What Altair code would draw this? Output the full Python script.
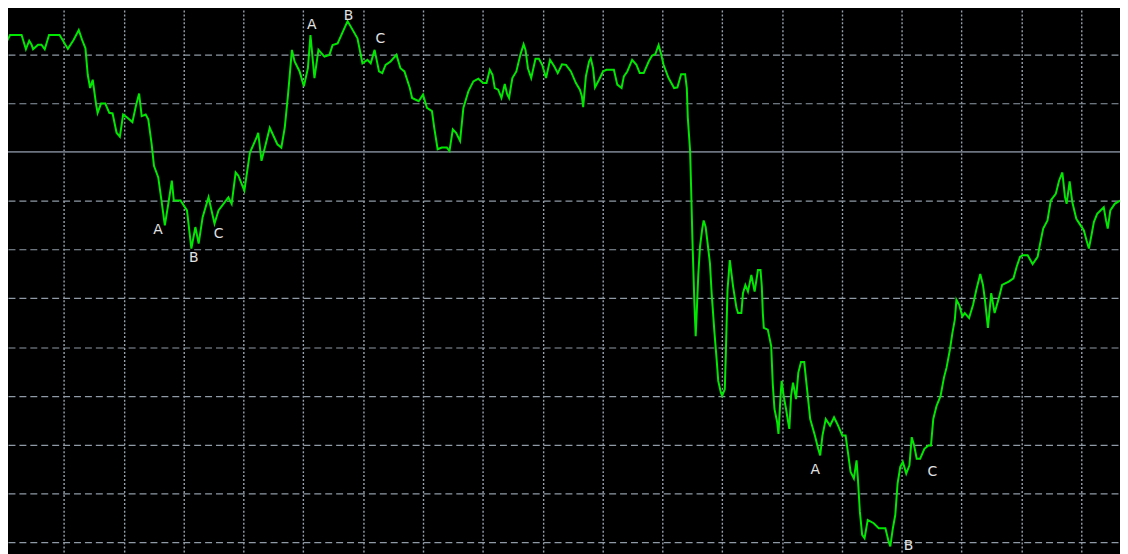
import altair as alt
import pandas as pd

# Time axis in minutes (vertical grid every 60 min), price axis (grid every 50 points)
minutes = [
    1.0, 6.0, 17.6, 21.9, 25.2, 27.6, 29.1, 34.1, 37.5, 40.8, 45.1, 55.7, 64.0, 69.7, 74.9, 78.3,
    81.6, 83.9, 86.3, 88.9, 92.3, 93.8, 97.2, 101.5, 105.5, 108.8, 112.8, 116.1, 119.4, 123.7,
    128.7, 132.1, 135.4, 138.0, 142.0, 144.6, 148.0, 150.3, 154.6, 158.5, 161.2, 165.2, 168.2,
    170.2, 176.9, 183.4, 187.8, 191.8, 195.1, 199.1, 205.0, 211.0, 215.0, 224.9, 228.2, 232.2,
    234.9, 240.9, 246.5, 253.1, 254.8, 258.1, 261.5, 266.4, 274.0, 278.0, 281.4, 284.7, 288.6,
    291.3, 296.3, 300.6, 304.6, 307.2, 311.2, 315.2, 321.2, 326.2, 329.4, 334.4, 344.4, 354.3,
    359.3, 364.3, 367.6, 371.5, 375.9, 379.2, 382.5, 387.5, 393.4, 397.4, 401.4, 406.8, 409.1,
    415.7, 420.0, 424.0, 429.0, 431.3, 434.7, 438.9, 443.9, 446.6, 449.9, 453.2, 457.2, 460.5,
    465.5, 470.5, 475.5, 480.4, 483.7, 487.0, 489.7, 492.0, 495.4, 498.7, 502.0, 504.3, 506.3,
    509.6, 513.6, 517.6, 520.9, 522.8, 525.2, 528.5, 532.8, 536.2, 539.5, 543.4, 547.4, 551.7,
    555.1, 559.4, 563.4, 568.3, 573.3, 577.3, 579.3, 580.6, 583.3, 586.5, 588.2, 590.5, 592.5,
    596.5, 600.5, 603.9, 611.4, 614.8, 619.1, 621.4, 624.8, 629.7, 634.0, 637.3, 641.3, 646.3,
    649.7, 652.9, 656.2, 658.9, 661.2, 666.2, 671.8, 675.1, 678.8, 682.8, 684.5, 685.5, 687.8,
    688.8, 690.1, 692.1, 693.4, 694.7, 696.0, 697.7, 700.0, 701.4, 703.4, 705.4, 707.7, 709.4,
    712.0, 714.4, 716.0, 718.6, 719.9, 722.6, 723.6, 725.3, 727.6, 730.9, 734.3, 735.9, 739.2,
    740.8, 743.2, 745.8, 749.2, 752.5, 755.8, 758.4, 759.7, 760.7, 761.7, 765.7, 769.1, 770.7,
    772.4, 775.1, 776.4, 778.4, 779.6, 781.6, 784.0, 785.6, 787.3, 789.0, 791.0, 794.0, 796.3,
    799.0, 802.2, 804.9, 808.2, 812.9, 816.2, 818.2, 820.5, 823.8, 828.1, 832.1, 835.4, 840.4,
    843.7, 846.0, 848.7, 852.0, 854.7, 856.0, 858.0, 860.3, 862.7, 865.9, 871.9, 876.9, 883.6,
    886.8, 888.5, 891.1, 893.5, 895.8, 898.5, 901.1, 904.5, 907.7, 910.0, 912.4, 915.0, 918.4,
    922.7, 926.7, 929.3, 931.6, 934.9, 938.9, 942.3, 944.9, 948.3, 950.8, 953.2, 954.8, 957.5,
    960.8, 963.2, 967.5, 971.5, 974.7, 978.7, 981.4, 983.4, 986.4, 989.7, 993.1, 997.3, 1000.6,
    1007.3, 1012.0, 1015.2, 1018.5, 1021.2, 1026.2, 1031.2, 1036.2, 1038.4, 1041.8, 1046.1,
    1049.4, 1054.4, 1057.7, 1061.0, 1063.7, 1065.3, 1068.3, 1071.0, 1075.0, 1079.3, 1082.6,
    1085.2, 1087.6, 1090.2, 1092.6, 1095.9, 1102.5, 1104.8, 1106.5, 1109.1, 1113.5, 1118.8,
]
price = [
    1609.5, 1619.7, 1619.7, 1605.1, 1613.9, 1609.8, 1605.1, 1609.8, 1609.8, 1605.1, 1619.7,
    1619.7, 1605.5, 1614.6, 1624.8, 1614.6, 1606.1, 1579.0, 1565.4, 1573.9, 1548.5, 1540.0,
    1549.5, 1549.5, 1540.0, 1539.4, 1519.6, 1515.6, 1538.3, 1534.9, 1530.5, 1546.8, 1559.7,
    1536.6, 1538.3, 1533.3, 1507.8, 1485.8, 1473.9, 1445.1, 1424.7, 1450.2, 1470.5, 1450.2,
    1450.2, 1440.0, 1401.0, 1423.0, 1406.1, 1433.2, 1453.5, 1426.5, 1440.0, 1453.5, 1446.8,
    1478.9, 1475.6, 1460.3, 1499.3, 1514.5, 1519.6, 1490.8, 1504.4, 1524.7, 1507.8, 1504.4,
    1524.7, 1558.7, 1604.5, 1592.6, 1582.4, 1567.1, 1585.7, 1619.7, 1575.6, 1604.5, 1597.6,
    1599.4, 1609.5, 1611.2, 1634.0, 1616.3, 1590.8, 1594.3, 1590.8, 1604.5, 1582.4, 1580.7,
    1589.2, 1592.6, 1599.4, 1585.7, 1582.4, 1565.4, 1555.2, 1551.9, 1558.7, 1545.1, 1541.7,
    1524.7, 1502.7, 1504.4, 1504.4, 1501.0, 1523.1, 1519.6, 1511.2, 1545.1, 1562.0, 1572.2,
    1575.0, 1570.5, 1570.5, 1584.1, 1579.0, 1565.4, 1563.8, 1555.2, 1569.5, 1559.3, 1555.2,
    1575.6, 1582.4, 1599.4, 1610.2, 1604.5, 1585.7, 1575.6, 1595.3, 1595.3, 1589.2, 1575.6,
    1594.3, 1587.5, 1580.7, 1589.8, 1589.2, 1582.4, 1570.5, 1563.8, 1557.0, 1545.8, 1577.3,
    1592.6, 1595.9, 1585.7, 1566.1, 1573.9, 1582.4, 1584.1, 1584.1, 1568.9, 1565.4, 1577.3,
    1582.4, 1594.3, 1589.2, 1580.7, 1580.7, 1592.6, 1598.7, 1600.0, 1609.5, 1599.4, 1589.2,
    1575.6, 1565.4, 1566.1, 1579.6, 1579.6, 1565.4, 1534.9, 1501.0, 1463.7, 1411.2, 1345.1,
    1311.1, 1341.6, 1373.9, 1402.7, 1421.4, 1429.8, 1423.0, 1406.1, 1385.8, 1355.3, 1317.9,
    1287.4, 1265.4, 1253.6, 1250.1, 1256.9, 1292.5, 1358.6, 1389.1, 1362.0, 1340.0, 1334.9,
    1334.9, 1355.3, 1363.7, 1356.9, 1373.9, 1356.9, 1379.0, 1379.0, 1362.0, 1334.9, 1319.7,
    1317.9, 1301.0, 1262.0, 1236.6, 1223.0, 1211.1, 1248.5, 1265.4, 1250.1, 1236.6, 1226.4,
    1216.2, 1250.1, 1263.7, 1246.7, 1273.9, 1284.7, 1284.7, 1258.6, 1226.4, 1209.4, 1195.9,
    1189.1, 1209.4, 1226.4, 1219.6, 1228.1, 1221.3, 1209.4, 1209.4, 1192.5, 1172.2, 1165.4,
    1184.0, 1165.4, 1131.5, 1107.7, 1104.3, 1123.0, 1119.6, 1114.5, 1114.5, 1101.0, 1095.9,
    1114.5, 1128.0, 1160.3, 1177.3, 1182.4, 1170.5, 1178.9, 1207.8, 1199.2, 1185.7, 1185.7,
    1195.9, 1199.2, 1199.2, 1226.4, 1239.9, 1250.1, 1268.8, 1279.0, 1297.6, 1314.6, 1328.1,
    1348.5, 1343.4, 1331.5, 1334.9, 1329.8, 1343.4, 1358.6, 1374.9, 1363.7, 1348.5, 1319.7,
    1355.3, 1334.9, 1350.2, 1363.7, 1367.1, 1370.5, 1382.3, 1392.5, 1394.2, 1394.2, 1385.1,
    1392.5, 1404.4, 1421.4, 1429.8, 1450.2, 1457.0, 1470.5, 1478.9, 1453.5, 1446.8, 1469.8,
    1448.4, 1431.5, 1424.7, 1419.6, 1409.5, 1401.0, 1414.6, 1428.1, 1436.6, 1443.3, 1429.8,
    1421.4, 1440.0, 1446.8, 1450.2,
]

label_text = ["A", "B", "C", "A", "B", "C", "A", "B", "C"]
label_minute = [154.3, 190.1, 215.0, 308.5, 345.4, 377.2, 813.2, 906.8, 930.7]
label_price = [1419.6, 1391.2, 1415.6, 1630.2, 1638.8, 1616.0, 1174.5, 1096.2, 1172.5]

x_grid = [60 * k for k in range(1, 19)]
y_grid = [1100, 1150, 1200, 1250, 1300, 1350, 1400, 1450, 1550, 1600]
ref_price = [1500]

X_DOMAIN = [3.96, 1118.8]
Y_DOMAIN = [1090.1, 1645.4]

series = pd.DataFrame({"minute": minutes, "price": price})
labels = pd.DataFrame({"t": label_text, "minute": label_minute, "price": label_price})
ref = pd.DataFrame({"price": ref_price})

xs = alt.Scale(domain=X_DOMAIN, nice=False, zero=False)
ys = alt.Scale(domain=Y_DOMAIN, nice=False, zero=False)

grid_src = pd.DataFrame({"minute": [X_DOMAIN[0]], "price": [Y_DOMAIN[0]]})

vgrid = alt.Chart(grid_src).mark_point(opacity=0).encode(
    x=alt.X("minute:Q", scale=xs,
            axis=alt.Axis(values=x_grid, grid=True, gridDash=[2, 2], gridColor="#97a2ae",
                          gridWidth=1.4, labels=False, ticks=False, domain=False, title=None)),
    y=alt.Y("price:Q", scale=ys,
            axis=alt.Axis(values=y_grid, grid=True, gridDash=[7, 4], gridColor="#8f9aa6",
                          gridWidth=1.2, labels=False, ticks=False, domain=False, title=None)),
)

ref_rule = alt.Chart(ref).mark_rule(color="#6d7480", strokeWidth=1.6).encode(
    y=alt.Y("price:Q", scale=ys)
)

line = alt.Chart(series).mark_line(color="#00e800", strokeWidth=2, clip=True).encode(
    x=alt.X("minute:Q", scale=xs),
    y=alt.Y("price:Q", scale=ys),
    order="minute:Q",
)

text = alt.Chart(labels).mark_text(
    color="#e2e2e2", font="DejaVu Sans", fontSize=14, baseline="middle", align="center"
).encode(
    x=alt.X("minute:Q", scale=xs),
    y=alt.Y("price:Q", scale=ys),
    text="t:N",
)

chart = alt.layer(vgrid, ref_rule, line, text).properties(
    width=1120, height=546, background="#000000", padding=0,
    autosize=alt.AutoSizeParams(type="none"),
).configure_view(strokeWidth=0, fill="#000000")

chart.save("out.html", embed_options={"renderer": "svg", "actions": False})
